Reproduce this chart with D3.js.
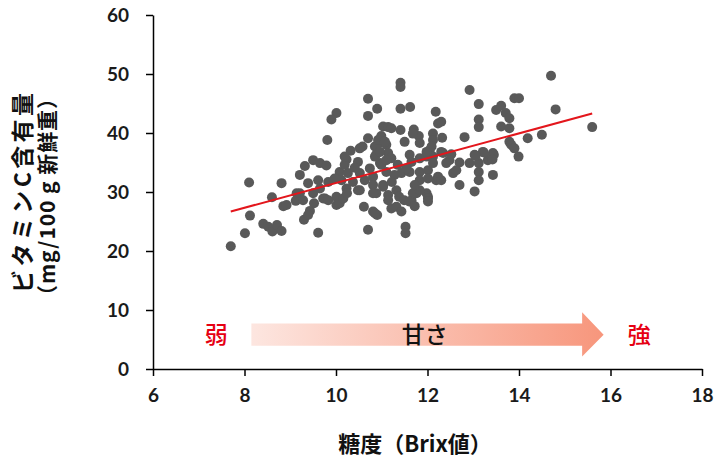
<!DOCTYPE html>
<html>
<head>
<meta charset="utf-8">
<script src="https://cdn.jsdelivr.net/npm/d3@7"></script>
<style>
  body { margin: 0; background: #fff; }
  svg { display: block; }
</style>
</head>
<body>
<div id="chart"></div>
<script>
// brix (x) and vitamin C (y)
const brix = [
  14.7, 11.41, 11.41, 12.92, 10.70, 10.90, 10.70, 10.01, 9.90, 11.41,
  11.62, 12.18, 13.12, 13.90, 14.00, 14.80, 9.81, 11.03, 11.14, 11.21,
  11.41, 11.70, 11.81, 12.12, 12.12, 12.23, 10.99, 10.96, 11.10, 10.70,
  10.58, 10.32, 10.85, 10.88, 11.14, 11.50, 11.61, 11.83, 11.98, 12.05,
  12.12, 9.50, 9.65, 9.79, 9.32, 9.21, 9.39, 9.61, 9.83, 10.08,
  10.12, 10.23, 10.48, 10.74, 10.96, 11.10, 10.81, 10.52, 10.26, 10.37,
  10.48, 10.23, 10.01, 9.76, 9.50, 9.14, 11.03, 11.14, 10.88, 11.32,
  11.43, 11.61, 11.65, 11.83, 12.01, 12.19, 11.83, 11.76, 11.98, 11.65,
  13.12, 13.12, 13.50, 13.61, 13.71, 13.79, 13.61, 13.79, 15.60, 14.19,
  14.50, 13.79, 13.83, 13.90, 13.99, 12.81, 11.68, 12.32, 12.09, 11.98,
  12.34, 12.52, 12.48, 12.41, 12.12, 12.70, 12.92, 13.12, 13.03, 13.21,
  13.43, 13.32, 13.40, 13.12, 13.12, 13.43, 12.56, 12.63, 12.70, 13.03,
  12.23, 12.30, 12.01, 11.54, 11.68, 12.01, 8.10, 8.81, 8.60, 8.12,
  8.01, 7.70, 8.41, 8.52, 8.61, 8.71, 8.81, 8.85, 8.92, 9.12,
  9.30, 9.43, 9.52, 9.61, 9.72, 9.83, 9.21, 10.01, 10.08, 10.16,
  10.24, 10.52, 10.61, 10.70, 10.81, 10.81, 10.81, 10.90, 11.03, 11.14,
  11.21, 11.32, 11.43, 11.38, 11.49, 11.60, 11.72, 11.83, 11.52, 11.52,
  12.01, 12.01, 10.85, 10.99, 11.21, 10.85, 11.10, 11.28, 10.63, 10.41,
  11.22, 10.19, 11.72, 11.35, 9.97, 9.65, 9.28, 9.39, 12.30, 10.92,
  11.07, 10.52, 10.96, 11.83, 12.30, 10.19, 13.23, 13.05, 13.45, 13.42
];
const vitC = [
  49.7, 48.5, 47.8, 47.3, 45.8, 44.1, 42.9, 43.4, 42.3, 44.1,
  44.4, 43.6, 44.9, 45.9, 45.9, 44.0, 38.8, 41.1, 41.0, 40.8,
  40.5, 40.6, 39.5, 39.9, 38.8, 41.6, 39.5, 38.3, 38.0, 39.1,
  37.7, 37.0, 37.7, 36.4, 36.6, 38.5, 36.3, 35.7, 36.0, 37.1,
  36.0, 35.4, 34.9, 34.5, 34.4, 32.9, 31.5, 32.0, 31.7, 33.4,
  32.0, 35.5, 35.1, 34.0, 34.9, 33.4, 32.6, 33.2, 33.2, 31.7,
  30.3, 30.6, 29.2, 28.9, 29.8, 29.8, 31.2, 29.5, 29.8, 30.3,
  33.2, 33.4, 35.1, 33.4, 33.7, 32.0, 32.0, 29.8, 29.8, 28.6,
  42.3, 41.0, 43.9, 44.6, 43.4, 42.5, 41.1, 40.8, 41.0, 39.1,
  39.7, 38.5, 38.0, 37.4, 36.0, 39.3, 39.9, 39.2, 37.7, 36.8,
  36.6, 36.4, 35.4, 34.9, 34.9, 35.0, 34.9, 34.9, 36.3, 36.8,
  36.6, 35.4, 36.0, 33.4, 32.0, 32.9, 33.2, 33.7, 31.2, 30.1,
  32.6, 32.0, 32.3, 34.0, 29.8, 29.2, 31.6, 31.5, 29.1, 26.0,
  23.0, 20.8, 24.6, 24.1, 23.3, 24.4, 23.4, 27.6, 27.8, 28.5,
  25.3, 26.8, 28.1, 23.1, 28.9, 28.6, 29.8, 27.8, 28.1, 28.9,
  29.8, 30.3, 27.5, 23.6, 31.2, 29.8, 26.7, 26.1, 30.9, 28.6,
  27.2, 27.5, 26.7, 29.2, 28.6, 28.4, 27.6, 30.3, 24.1, 23.0,
  28.9, 28.4, 26.4, 34.6, 35.7, 36.0, 35.4, 32.9, 32.0, 34.1,
  31.7, 34.6, 31.2, 34.6, 32.3, 30.6, 28.6, 26.1, 41.9, 38.8,
  38.5, 37.4, 36.8, 38.3, 36.8, 36.0, 36.7, 36.1, 36.3, 35.5
];
const xTicks = [6, 8, 10, 12, 14, 16, 18];
const yTicks = [0, 10, 20, 30, 40, 50, 60];
const trendX = [7.7, 15.6];
const trendY = [26.7, 43.3];
// arrow: shaft start, shaft end, tip (brix units); shaft and head extents (vit C units)
const arrowX = [8.15, 15.38, 15.85];
const arrowY = [7.7, 3.95, 9.6, 2.1];

const width = 727, height = 459;
const margin = {top: 15, right: 25, bottom: 90, left: 153};

const svg = d3.select('#chart').append('svg')
    .attr('width', width)
    .attr('height', height);

const x = d3.scaleLinear().domain([6, 18]).range([margin.left, 702]);
const y = d3.scaleLinear().domain([0, 60]).range([369, margin.top]);

// gradient for the sweetness arrow
const defs = svg.append('defs');
const grad = defs.append('linearGradient').attr('id', 'sweet')
    .attr('gradientUnits', 'userSpaceOnUse')
    .attr('x1', x(arrowX[0])).attr('x2', x(arrowX[2]))
    .attr('y1', 0).attr('y2', 0);
grad.append('stop').attr('offset', '0%').attr('stop-color', '#fde6e0');
grad.append('stop').attr('offset', '100%').attr('stop-color', '#f7967c');

const arrowPts = [
    [arrowX[0], arrowY[0]], [arrowX[1], arrowY[0]], [arrowX[1], arrowY[2]],
    [arrowX[2], (arrowY[0] + arrowY[1]) / 2],
    [arrowX[1], arrowY[3]], [arrowX[1], arrowY[1]], [arrowX[0], arrowY[1]]
];
svg.append('path')
    .attr('d', d3.line().x(d => x(d[0])).y(d => y(d[1]))(arrowPts) + 'Z')
    .attr('fill', 'url(#sweet)');

const midY = y((arrowY[0] + arrowY[1]) / 2);
svg.append('text')
    .attr('x', x(11.94)).attr('y', midY)
    .attr('dy', '0.36em')
    .attr('text-anchor', 'middle')
    .attr('font-family', 'Noto Sans CJK JP')
    .attr('font-weight', 500)
    .attr('font-size', '23px')
    .attr('fill', '#111')
    .text('甘さ');

[['弱', 7.38], ['強', 16.63]].forEach(d => {
    svg.append('text')
        .attr('x', x(d[1])).attr('y', midY)
        .attr('dy', '0.36em')
        .attr('text-anchor', 'middle')
        .attr('font-family', 'Noto Sans CJK JP')
        .attr('font-weight', 500)
        .attr('font-size', '23px')
        .attr('fill', '#e60012')
        .text(d[0]);
});

// points
svg.append('g').selectAll('circle')
    .data(brix.map((b, i) => [b, vitC[i]]))
    .enter()
    .append('circle')
    .attr('cx', d => x(d[0]))
    .attr('cy', d => y(d[1]))
    .attr('r', 5)
    .attr('fill', '#595959');

// trend line
svg.append('line')
    .attr('x1', x(trendX[0])).attr('y1', y(trendY[0]))
    .attr('x2', x(trendX[1])).attr('y2', y(trendY[1]))
    .attr('stroke', '#e3161c')
    .attr('stroke-width', 2);

// axes
const xAxis = svg.append('g')
    .attr('transform', 'translate(0,' + y(0) + ')')
    .call(d3.axisBottom(x).tickValues(xTicks).tickSize(7).tickSizeOuter(0).tickPadding(13));
const yAxis = svg.append('g')
    .attr('transform', 'translate(' + x(6) + ',0)')
    .call(d3.axisLeft(y).tickValues(yTicks).tickSize(7).tickSizeOuter(0).tickPadding(17));

[xAxis, yAxis].forEach(a => {
    a.select('.domain').attr('stroke', '#000').attr('stroke-width', 1.5);
    a.selectAll('.tick line').attr('stroke', '#000').attr('stroke-width', 1.5);
    a.selectAll('.tick text')
        .attr('font-family', 'Lato')
        .attr('font-weight', 'bold')
        .attr('font-size', '19px')
        .attr('fill', '#1a1a1a');
});

// axis titles
svg.append('text')
    .attr('x', 415).attr('y', 444)
    .attr('dy', '0.36em')
    .attr('text-anchor', 'middle')
    .attr('font-family', 'Noto Sans CJK JP')
    .attr('font-weight', 'bold')
    .attr('font-size', '22px')
    .attr('fill', '#111')
    .text('糖度（Brix値）');

const yTitle = svg.append('g').attr('transform', 'rotate(-90)');
yTitle.append('text')
    .attr('x', -193).attr('y', 23)
    .attr('dy', '0.36em')
    .attr('text-anchor', 'middle')
    .attr('font-family', 'Noto Sans CJK JP')
    .attr('font-weight', 'bold')
    .attr('font-size', '23px')
    .attr('textLength', 200)
    .attr('lengthAdjust', 'spacing')
    .attr('fill', '#111')
    .text('ビタミンC含有量');
yTitle.append('text')
    .attr('x', -197).attr('y', 47)
    .attr('dy', '0.36em')
    .attr('text-anchor', 'middle')
    .attr('font-family', 'Noto Sans CJK JP')
    .attr('font-weight', 'bold')
    .attr('font-size', '21px')
    .attr('textLength', 218)
    .attr('lengthAdjust', 'spacing')
    .attr('fill', '#111')
    .text('（mg/100 g 新鮮重）');
</script>
</body>
</html>
